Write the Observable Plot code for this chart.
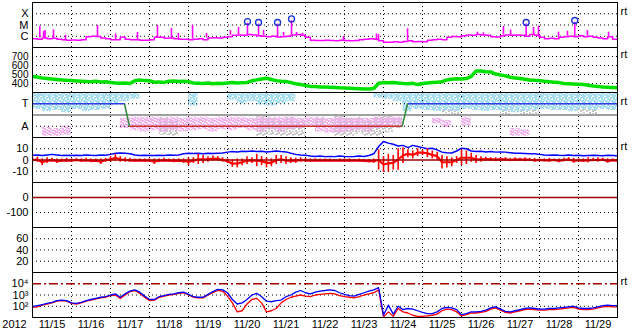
<!DOCTYPE html>
<html><head><meta charset="utf-8">
<script src="https://cdn.jsdelivr.net/npm/d3@7"></script>
<script src="https://cdn.jsdelivr.net/npm/@observablehq/plot@0.6"></script>
<style>
html,body{margin:0;padding:0;background:#fff;}
#chart{position:relative;width:633px;height:334px;overflow:hidden;background:#fff;}
#chart svg{position:absolute;left:0;overflow:visible;}
</style></head><body><div id="chart"></div>
<script>
// ---------- data ----------
const startUTC = Date.UTC(2012, 10, 15);
const endUTC = Date.UTC(2012, 10, 30);
const yearLabel = "2012";
const dateTickLabels = ["11/15","11/16","11/17","11/18","11/19","11/20","11/21","11/22","11/23","11/24","11/25","11/26","11/27","11/28","11/29"];

// GOES X-ray flux, in units of 1e-6 W/m2 (C1 = 1), every 3 hours
const xrayBase = [0.6,0.55,0.7,0.6,0.65,0.55,0.5,0.45,0.46,0.45,
 0.5,0.9,1.0,0.95,0.7,0.6,0.48,0.5,0.8,0.55,
 0.5,0.5,0.45,0.45,0.5,0.8,0.8,0.65,0.7,0.6,
 0.55,0.55,0.5,0.55,0.6,0.5,0.7,0.75,0.7,0.8,
 0.9,1.2,1.3,1.2,1.4,1.3,1.1,1.0,0.9,1.0,
 0.85,0.9,1.0,1.3,1.4,1.2,0.8,0.45,0.42,0.42,
 0.45,0.42,0.4,0.45,0.42,0.4,0.42,0.5,0.55,0.6,
 0.55,0.4,0.3,0.3,0.32,0.3,0.35,0.4,0.32,0.35,
 0.32,0.45,0.5,0.55,0.5,0.8,0.95,0.9,1.1,1.3,
 1.2,1.4,1.3,1.2,0.9,0.85,1.1,1.3,1.2,1.3,
 1.2,1.0,1.4,1.2,0.8,0.6,0.65,0.6,0.8,0.9,
 1.0,0.9,1.1,0.9,1.0,0.8,0.7,0.6,0.9,0.55,
 0.6];
const xraySpikeHours = [4.5,6.8,7.7,12.9,20.3,40.0,51.1,64.6,76.9,85.5,89.8,98.5,107.1,121.8,126.8,132.3,139.1,142.2,150.8,154.5,159.4,162.5,166.2,191.4,211.7,212.9,230.8,273.8,277.5,289.8,294.2,303.8,308.3,311.4,323.7,329.2,333.7,341.5,354.5];
const xraySpikePeaks = [7.4,2.6,3.2,3.7,1.2,9.0,1.6,2.2,9.0,4.9,1.8,9.0,1.8,3.2,6.0,14,12,3.2,12,2.2,24,2.2,1.8,0.95,1.6,1.4,4.6,2.3,2.0,7.4,3.7,12,6.0,8.0,2.3,2.8,17,3.2,2.3];
const flareHours = [132.3,139.1,150.8,159.4,303.8,333.7];
const flareValues = [20,16.7,16.7,35,16.7,25];

// solar wind speed km/s, every 3 hours
const speed = [478,472,462,455,450,445,440,435,432,428,
 425,422,420,424,418,420,412,405,402,405,
 400,430,438,432,430,415,418,412,425,428,
 422,426,420,405,402,400,405,398,403,400,
 405,410,405,408,412,430,440,450,458,445,
 432,425,422,410,398,390,378,368,366,362,
 360,358,356,352,350,348,345,342,340,338,
 345,402,410,408,412,405,400,398,402,388,
 400,405,410,415,420,440,448,452,450,455,
 480,540,538,530,528,505,495,485,470,462,
 455,448,440,435,432,425,420,415,410,400,
 398,395,392,388,380,372,368,362,358,355,
 352];

// IMF sector polarity (T = +1, A = -1)
const polarityHours = [0, 56.6, 59.7, 227.5, 230.8, 360];
const polarityValues = [1, 1, -1, -1, 1, 1];
// IMF angle scatter per 6-hour bin: [bin, top, bottom]
const cyanBins = [[0,1.9,0.5],[1,1.9,0.3],[2,1.9,0.4],[3,1.9,0.2],[4,1.9,0.5],[5,1.9,0.3],[6,1.9,0.4],[7,1.9,0.5],[8,1.9,1.0],[9,1.9,1.2],[10,1.9,1.4],[16,1.9,0.8],[20,1.9,1.3],[21,1.9,1.0],[22,1.9,1.2],[23,1.9,0.9],[24,1.9,0.8],[25,1.9,1.0],[26,1.9,1.2],[35,1.9,1.5],[36,1.9,1.4],[37,1.9,1.2],[38,1.9,0.3],[39,1.9,0.5],[40,1.9,0.4],[41,1.9,0.3],[42,1.9,0.4],[43,1.9,0.3],[44,1.9,0.5],[45,1.9,0.4],[46,1.9,0.3],[47,1.9,0.4],[48,1.9,0.3],[49,1.9,0.2],[50,1.9,0.3],[51,1.9,0.4],[52,1.9,0.5],[53,1.9,0.4],[54,1.9,0.4],[55,1.9,0.3],[56,1.9,0.5],[57,1.9,0.4],[58,1.9,0.5],[59,1.9,0.4]];
const pinkBins = [[1,-1.1,-1.9],[2,-1.2,-1.9],[3,-1.0,-1.8],[9,-0.3,-1.2],[10,-0.2,-1.4],[11,-0.2,-1.5],[12,-0.2,-1.4],[13,-0.3,-1.5],[14,-0.2,-1.4],[15,-0.3,-1.5],[16,-0.2,-1.4],[17,-0.2,-1.3],[18,-0.3,-1.5],[19,-0.2,-1.3],[20,-0.2,-1.4],[21,-0.2,-1.2],[22,-0.3,-1.4],[23,-0.2,-1.5],[24,-0.3,-1.3],[25,-0.2,-1.5],[26,-0.2,-1.3],[27,-0.3,-1.2],[28,-0.2,-1.0],[29,-0.3,-1.5],[30,-0.3,-1.6],[31,-0.2,-1.6],[32,-0.3,-1.5],[33,-0.3,-1.4],[34,-0.3,-1.5],[35,-0.2,-1.2],[36,-0.2,-1.0],[37,-0.2,-0.9],[41,-0.3,-0.8],[42,-0.5,-1.1],[44,-0.2,-1.0],[49,-1.2,-1.9],[50,-1.3,-1.9]];
const grayBins = [[0,1.9,1.6],[13,-0.2,-1.8],[14,-0.5,-1.9],[23,-0.1,-1.9],[24,-0.2,-1.8],[25,-0.5,-1.9],[26,-0.2,-1.9],[27,-0.6,-1.9],[29,-0.2,-1.0],[31,-0.1,-1.9],[32,-0.3,-1.9],[33,-0.2,-1.7],[34,-0.5,-1.9],[35,-0.2,-1.9],[36,-0.1,-1.6],[37,-0.3,-1.2],[42,0.4,0.1],[43,0.5,0.0],[48,0.5,0.0],[50,0.4,0.0],[51,0.4,0.0],[56,0.5,0.1],[57,0.4,0.0]];

// IMF Bt (nT) and Bz range (nT), every 3 hours
const bt = [4.2,4.5,4,4.5,5,4.5,4,4.2,4,4.2,
 4,4.5,4.2,4,4.5,4.2,5,6,6.2,6,
 5.5,4.5,4,4.2,4,4,4.2,4,4.5,4.2,
 4.5,5.5,6,5.8,6,5.5,6,5.8,6,6.2,
 7,7.5,7.2,7.8,7.5,8,7.5,7.8,7.2,7.5,
 8,7.5,7.2,6,5,4.5,4.2,3.5,3.2,3.5,
 3,3.2,3,3.5,3.2,3,3.2,3.5,3.2,4,
 5.5,12,16.5,15,14,12.5,13,11,13,12,
 11,10,10.5,9,7,6.5,6.2,8,10.5,10,
 8,7.5,7.8,7.2,7.5,7,7.2,7,6.5,6,
 6,5.8,5.5,5.5,5,4.5,4.2,4.5,4.2,4,
 4.5,4,4.2,3.8,4,4.2,4,3.8,4.2,4,
 3.8];
const bzMin = [-2,-2,-5,-3,-2,-3,-2,-2,-2,-1.5,
 -2,-2,-2.5,-2,-4,-2,-2,-1,-2,-2,
 -2,-2,-1.5,-2,-2,-4,-2,-2,-2,-2.5,
 -2,-3,-5,-3,-4,-3,-2,-1,-1,-2,
 -3,-6.5,-7,-5,-4,-3,-6,-5,-7,-6,
 -4,-3,-4,-3,-3,-2,-2,-2,-1.5,-2,
 -1.5,-2,-1.5,-2,-1.5,-2,-1.5,-2,-2,-2.5,
 -3,-9,-11,-11,-9,-9,-3,2,1,3,
 4,2,1,0,-8,-7,-6,-3,-5,-4,
 -2,-3,-2,-1,-1,-1.5,-1,-1,-1.5,-1,
 -1,-1.5,-1,-2,-1,-1.5,-2,-1,-2.5,-1.5,
 -1,-3,-1.5,-2,-2.5,-1.5,-2,-1,-3,-1.5,
 -2];
const bzMax = [2,2.5,1,2,1.5,1,1,1.5,1,1.5,
 1,1.5,1,1,1,1.5,3,5,3,2,
 1.5,1,1,1,1,1,1,1.5,1,1,
 1,1,2,2,5,4,3,3.5,3,2,
 1,0,1,1,3,2,5,3,2,1,
 4,4,3,2,1.5,2,1.5,1,1,1,
 1,1,0.5,1,1,1,0.5,1,0.5,0.5,
 1,9,3,5,4,10,11,9,8,10,
 9,10,8,7,4,3,2,3,9,8,
 6,4,3,2.5,2,2,2,2,1.5,2,
 1.5,2,1.5,1.5,1,1,1.5,1,1,1.5,
 2,1.5,1,1,2,1.5,2,1.5,1,1,
 1];

// Dst and the 20-60 panel hold no data in the picture
// electron flux, log10 values, every 3 hours
const electronBlueLog = [1.98,2.05,2.15,2.25,2.35,2.5,2.55,2.5,2.3,2.25,
 2.35,2.5,2.6,2.7,2.8,2.85,3.0,3.1,2.8,3.1,
 3.35,3.45,3.25,2.9,2.6,2.6,2.85,2.95,3.05,3.1,
 3.2,3.25,3.05,2.85,2.8,2.8,3.05,3.3,3.5,3.45,
 3.2,2.6,2.2,2.3,2.6,3.0,3.15,2.85,2.45,2.4,
 2.5,2.55,2.85,3.0,3.25,3.4,3.2,3.1,3.25,3.35,
 3.4,3.46,3.4,3.2,3.05,2.95,2.9,3.05,3.2,3.35,
 3.45,3.65,1.2,2.1,1.3,2.0,1.7,1.8,1.75,1.6,
 1.45,1.35,1.35,1.5,1.8,1.9,1.85,1.7,1.25,1.35,
 1.5,1.5,1.55,1.65,1.85,1.95,1.75,1.55,1.5,1.6,
 1.7,1.8,1.85,1.8,1.75,1.75,1.8,1.8,1.85,1.9,
 1.95,2.0,1.85,1.8,1.8,1.85,1.95,2.05,2.1,2.05,
 2.05];
const electronRedLog = [1.9,1.95,2.1,2.2,2.3,2.45,2.5,2.45,2.25,2.2,
 2.3,2.45,2.55,2.65,2.75,2.8,2.95,3.0,2.7,3.0,
 3.3,3.4,3.15,2.8,2.5,2.55,2.8,2.9,3.0,3.05,
 3.15,3.2,3.0,2.8,2.75,2.75,3.0,3.2,3.4,3.35,
 2.9,2.3,1.5,1.6,2.2,2.6,2.7,2.3,1.5,1.6,
 1.8,2.3,2.6,2.8,2.9,3.0,2.9,2.85,3.0,3.05,
 3.1,3.15,3.1,2.95,2.85,2.8,2.75,2.85,3.0,3.1,
 3.2,3.45,1.05,1.5,1.1,1.8,1.5,1.4,1.2,1.1,
 1.1,1.15,1.2,1.3,1.6,1.75,1.7,1.5,1.15,1.25,
 1.4,1.4,1.45,1.55,1.75,1.85,1.65,1.45,1.4,1.5,
 1.6,1.7,1.75,1.7,1.65,1.65,1.7,1.7,1.75,1.8,
 1.85,1.9,1.75,1.7,1.7,1.75,1.85,1.95,2.0,1.95,
 1.95];

// ---------- drawing ----------
const H = 36e5, DAY = 864e5;
const at3h = i => new Date(startUTC + i * 3 * H);
const atHour = h => new Date(startUTC + h * H);
const x0 = new Date(startUTC), x1 = new Date(endUTC);
const dayLines = d3.range(1, 15).map(i => new Date(startUTC + i * DAY));
const noonTicks = dateTickLabels.map((s, i) => new Date(startUTC + (i + 0.5) * DAY));
const dotted = {stroke: "black", strokeDasharray: "1,3", strokeWidth: 1};
const DARKRED = "#a00000";
const FS = 11;
const FONT = "'Liberation Sans', Arial, Helvetica, sans-serif";
const chart = document.getElementById("chart");

function yAxis(ticks, fmt, fs = FS) {
  return Plot.axisY(ticks, {tickSize: 0, tickPadding: 4, label: null, tickFormat: fmt, fontSize: fs, anchor: "left"});
}
function rt(v) {
  return Plot.text(["rt"], {x: () => x1, y: () => v, text: d => d, textAnchor: "start", dx: 3, dy: -2, fontSize: FS});
}
function panel(k, y, marks) {
  const last = k === 6;
  const svg = Plot.plot({
    width: 633, height: last ? 64 : 47,
    marginLeft: 32, marginRight: 16, marginTop: 2, marginBottom: last ? 17 : 0,
    x: {type: "utc", domain: [x0, x1], axis: null},
    y: {...y, axis: null},
    style: {background: "transparent", fontFamily: FONT, fontSize: FS + "px", color: "black", overflow: "visible"},
    marks: [Plot.ruleX(dayLines, dotted), ...marks, Plot.frame({stroke: "black"})]
  });
  svg.style.position = "absolute";
  svg.style.left = "0px";
  svg.style.top = (45 * k) + "px";
  chart.appendChild(svg);
  return svg;
}

// 1. X-ray
const xrayData = xrayBase.map((v, i) => ({t: at3h(i), v}));
const spikes = xraySpikeHours.map((h, i) => ({t: atHour(h), base: xrayBase[Math.min(120, Math.round(h / 3))], peak: xraySpikePeaks[i]}));
const flares = flareHours.map((h, i) => ({t: atHour(h), v: flareValues[i]}));
const xrayLabels = {1: "C", 10: "M", 100: "X"};
panel(0, {type: "log", domain: [0.1, 1000]}, [
  Plot.ruleY([1, 10, 100], dotted),
  Plot.line(xrayData, {x: "t", y: "v", stroke: "#ff00ff", strokeWidth: 1.5, curve: "step-after", clip: true}),
  Plot.ruleX(spikes, {x: "t", y1: "base", y2: "peak", stroke: "#ff00ff", strokeWidth: 1.6, clip: true}),
  Plot.dot(flares, {x: "t", y: "v", r: 3, stroke: "#1a2fd0", strokeWidth: 1.3, fill: "none"}),
  yAxis([1, 10, 100], d => xrayLabels[d]),
  rt(100)
]);

// 2. Solar wind speed
panel(1, {domain: [300, 800]}, [
  Plot.ruleY([400, 500, 600, 700], dotted),
  Plot.line(speed.map((v, i) => ({t: at3h(i), v})), {x: "t", y: "v", stroke: "#00e000", strokeWidth: 3.5, clip: true}),
  yAxis([400, 500, 600, 700], d => String(d), 10),
  rt(700)
]);

// 3. Sector polarity
const binRect = b => ({x1: new Date(startUTC + b[0] * 6 * H), x2: new Date(startUTC + (b[0] + 1) * 6 * H), top: b[1], bottom: b[2]});
const polSegs = d3.pairs(d3.zip(polarityHours, polarityValues)).map(([a, b]) => ({
  x1: atHour(a[0]), y1: a[1], x2: atHour(b[0]), y2: b[1],
  kind: a[1] !== b[1] ? "switch" : (a[1] > 0 ? "T" : "A")
}));
const polSvg = panel(2, {domain: [-2, 2]}, [
  Plot.rect(grayBins.map(binRect), {x1: "x1", x2: "x2", y1: "bottom", y2: "top", fill: "url(#spk-g)", clip: true}),
  Plot.rect(cyanBins.map(binRect), {x1: "x1", x2: "x2", y1: "bottom", y2: "top", fill: "url(#spk-c)", clip: true}),
  Plot.rect(pinkBins.map(binRect), {x1: "x1", x2: "x2", y1: "bottom", y2: "top", fill: "url(#spk-p)", clip: true}),
  Plot.ruleY([1, -1], dotted),
  Plot.ruleY([0], {stroke: "#808080", strokeWidth: 1.5}),
  Plot.link(polSegs.filter(s => s.kind === "T"), {x1: "x1", y1: "y1", x2: "x2", y2: "y2", stroke: "#3040e8", strokeWidth: 1.5}),
  Plot.link(polSegs.filter(s => s.kind === "A"), {x1: "x1", y1: "y1", x2: "x2", y2: "y2", stroke: "#d03030", strokeWidth: 1.5}),
  Plot.link(polSegs.filter(s => s.kind === "switch"), {x1: "x1", y1: "y1", x2: "x2", y2: "y2", stroke: "#2f8a3a", strokeWidth: 1.5}),
  yAxis([1, -1], d => d > 0 ? "T" : "A"),
  rt(1)
]);
function pattern(id, color, cells) {
  return `<pattern id="${id}" width="6" height="6" patternUnits="userSpaceOnUse">` +
    cells.map(c => `<rect x="${c[0]}" y="${c[1]}" width="${c[2]}" height="${c[3]}" fill="${color}"/>`).join("") + `</pattern>`;
}
polSvg.insertAdjacentHTML("afterbegin", "<defs>" +
  pattern("spk-c", "#a4dcf2", [[0,0,3,2],[3,0,1,1],[4,1,2,2],[1,2,2,2],[0,4,2,2],[3,3,2,2],[2,5,2,1],[5,4,1,2]]) +
  pattern("spk-p", "#f2b0ee", [[1,0,3,1],[4,0,2,2],[0,1,2,2],[2,2,2,2],[5,3,1,2],[0,4,2,2],[3,4,2,1],[2,5,2,1]]) +
  pattern("spk-g", "#c6c6c6", [[2,0,2,2],[0,1,2,2],[4,2,2,2],[1,4,2,2],[4,5,2,1]]) +
  "</defs>");

// 4. IMF Bt / Bz (Bz: 3-hour low-high range as vertical strokes, plus mid line)
const bData = bt.map((v, i) => ({t: at3h(i), bt: v, lo: bzMin[i], hi: bzMax[i], mid: (bzMin[i] + bzMax[i]) / 2}));
panel(3, {domain: [-20, 20]}, [
  Plot.ruleY([10, -10], dotted),
  Plot.line(bData, {x: "t", y: "bt", stroke: "#0000ff", strokeWidth: 1.5, clip: true}),
  Plot.ruleX(bData, {x: "t", y1: "lo", y2: "hi", stroke: "#ff0000", strokeWidth: 1.6, clip: true}),
  Plot.line(bData, {x: "t", y: "mid", stroke: "#ff0000", strokeWidth: 2.2, clip: true}),
  Plot.ruleY([0], {stroke: DARKRED, strokeWidth: 1.5}),
  yAxis([10, 0, -10], d => String(d)),
  rt(10)
]);

// 5. Dst
panel(4, {domain: [-200, 100]}, [
  Plot.ruleY([-100], dotted),
  Plot.ruleY([0], {stroke: DARKRED, strokeWidth: 1.5}),
  yAxis([0, -100], d => String(d))
]);

// 6. empty 0-80 panel
panel(5, {domain: [0, 80]}, [
  Plot.ruleY([20, 40, 60], dotted),
  yAxis([20, 40, 60], d => String(d))
]);

// 7. Electron flux
const eData = electronBlueLog.map((v, i) => ({t: at3h(i), blue: 10 ** v, red: 10 ** electronRedLog[i]}));
const supLabels = {100: "10²", 1000: "10³", 10000: "10⁴"};
panel(6, {type: "log", domain: [10, 1e5]}, [
  Plot.ruleY([100, 1000], dotted),
  Plot.ruleY([1e4], {stroke: DARKRED, strokeWidth: 1.5, strokeDasharray: "9,3,2,3"}),
  Plot.line(eData, {x: "t", y: "red", stroke: "#ff0000", strokeWidth: 1.3, clip: true}),
  Plot.line(eData, {x: "t", y: "blue", stroke: "#0000ff", strokeWidth: 1.3, clip: true}),
  yAxis([100, 1000, 10000], d => supLabels[d]),
  Plot.axisX(noonTicks, {tickSize: 0, tickPadding: 3, label: null, fontSize: FS,
    tickFormat: d => dateTickLabels[noonTicks.findIndex(n => +n === +d)]}),
  Plot.text([yearLabel], {frameAnchor: "bottom-left", text: d => d, textAnchor: "middle", lineAnchor: "top", dx: -18, dy: 3, fontSize: FS}),
  rt(1e4)
]);
</script></body></html>
